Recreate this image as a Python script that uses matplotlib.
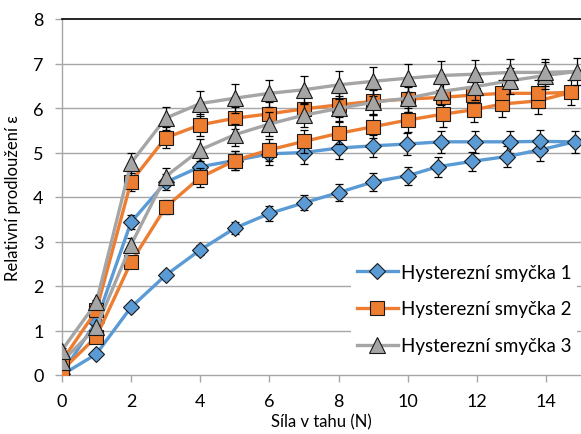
import matplotlib
matplotlib.use("Agg")
import matplotlib.pyplot as plt
from matplotlib.lines import Line2D

plt.rcParams['font.family'] = ['Lato', 'DejaVu Sans']

# ---- data ----
s1_load_F = [0, 1, 2, 3, 4, 5, 6, 7, 8, 9, 10, 10.86, 11.85, 12.86, 13.82, 14.82]
s1_load_e = [0, 0.47, 1.52, 2.24, 2.81, 3.30, 3.63, 3.87, 4.10, 4.34, 4.48, 4.68, 4.80, 4.91, 5.06, 5.24]
s1_load_err = [0, 0.02, 0.04, 0.07, 0.12, 0.14, 0.16, 0.17, 0.19, 0.2, 0.2, 0.22, 0.22, 0.24, 0.24, 0.25]
s1_unl_F = [13.82, 12.96, 11.95, 10.96, 9.97, 9, 8, 7, 6, 5, 4, 3, 2, 1, 0]
s1_unl_e = [5.25, 5.24, 5.24, 5.24, 5.19, 5.15, 5.10, 5.00, 4.97, 4.82, 4.68, 4.33, 3.43, 1.20, 0.03]
s1_unl_err = [0.25, 0.25, 0.25, 0.25, 0.25, 0.25, 0.25, 0.25, 0.25, 0.22, 0.2, 0.18, 0.16, 0.03, 0]

s2_load_F = [0, 1, 2, 3, 4, 5, 6, 7, 8, 9, 10, 11.0, 11.9, 12.73, 13.76, 14.71]
s2_load_e = [0.10, 0.86, 2.53, 3.77, 4.44, 4.82, 5.06, 5.25, 5.43, 5.58, 5.73, 5.86, 5.96, 6.09, 6.16, 6.35]
s2_load_err = [0, 0.03, 0.1, 0.16, 0.22, 0.22, 0.24, 0.25, 0.25, 0.26, 0.28, 0.28, 0.28, 0.3, 0.3, 0.28]
s2_unl_F = [13.76, 12.73, 11.87, 11.0, 10, 9, 8, 7, 6, 5, 4, 3, 2, 1, 0]
s2_unl_e = [6.33, 6.33, 6.29, 6.24, 6.20, 6.15, 6.07, 5.98, 5.87, 5.77, 5.62, 5.33, 4.34, 1.45, 0.31]
s2_unl_err = [0.3, 0.3, 0.3, 0.3, 0.28, 0.28, 0.27, 0.27, 0.26, 0.25, 0.25, 0.24, 0.2, 0.05, 0.02]

s3_load_F = [0, 1, 2, 3, 4, 5, 6, 7, 8, 9, 10, 10.95, 11.94, 12.94, 13.95, 14.88]
s3_load_e = [0.30, 1.07, 2.92, 4.46, 5.06, 5.40, 5.64, 5.84, 5.99, 6.13, 6.22, 6.37, 6.48, 6.61, 6.73, 6.82]
s3_load_err = [0.02, 0.05, 0.15, 0.2, 0.24, 0.25, 0.26, 0.27, 0.28, 0.28, 0.3, 0.3, 0.3, 0.3, 0.3, 0.3]
s3_unl_F = [13.95, 12.94, 11.94, 10.95, 10, 9, 8, 7, 6, 5, 4, 3, 2, 1, 0]
s3_unl_e = [6.80, 6.80, 6.76, 6.73, 6.67, 6.60, 6.52, 6.41, 6.33, 6.22, 6.10, 5.77, 4.76, 1.63, 0.55]
s3_unl_err = [0.3, 0.3, 0.32, 0.32, 0.32, 0.32, 0.32, 0.32, 0.3, 0.33, 0.28, 0.26, 0.22, 0.05, 0.05]

labels = ["Hysterezní smyčka 1", "Hysterezní smyčka 2", "Hysterezní smyčka 3"]
x_ticks = [0, 2, 4, 6, 8, 10, 12, 14]
y_ticks = [0, 1, 2, 3, 4, 5, 6, 7, 8]

series = [
    (s1_load_F + s1_unl_F, s1_load_e + s1_unl_e, s1_load_err + s1_unl_err, '#5B9BD5', 'D', 8.5),
    (s2_load_F + s2_unl_F, s2_load_e + s2_unl_e, s2_load_err + s2_unl_err, '#ED7D31', 's', 10),
    (s3_load_F + s3_unl_F, s3_load_e + s3_unl_e, s3_load_err + s3_unl_err, '#A5A5A5', '^', 11),
]

fig = plt.figure(figsize=(5.81, 4.35), dpi=100)
ax = fig.add_axes([61.7 / 581, 1 - 376 / 435, (581 - 61.7) / 581, (376 - 20) / 435])

grid_c = '#a6a6a6'
for y in y_ticks[1:-1]:
    ax.axhline(y, color=grid_c, lw=1, zorder=0)

z = 2
for (F, e, err, c, m, ms) in series:
    ax.errorbar(F, e, yerr=err, fmt='none', ecolor='black', elinewidth=0.9,
                capsize=3, capthick=0.9, zorder=z)
    ax.plot(F, e, color=c, lw=2.4, marker=m, markersize=ms, markerfacecolor=c,
            markeredgecolor='#1a1a1a', markeredgewidth=0.8, zorder=z + 0.5)
    z += 1

ax.set_xlim(0, 15)
ax.set_ylim(0, 8)
ax.set_xticks(x_ticks)
ax.set_yticks(y_ticks)
ax.tick_params(axis='both', labelsize=13, colors='#a6a6a6', labelcolor='black', length=5, width=1)
ax.tick_params(axis='x', pad=8)
ax.tick_params(axis='y', pad=8)

for s in ['left', 'bottom']:
    ax.spines[s].set_color('#a6a6a6')
    ax.spines[s].set_linewidth(1)
ax.spines['right'].set_visible(False)
ax.spines['top'].set_color('black')
ax.spines['top'].set_linewidth(1.2)

ax.set_xlabel("Síla v tahu (N)", fontsize=12, labelpad=3)
ax.set_ylabel("Relativní prodloužení ε", fontsize=12, labelpad=9)

handles = [Line2D([], [], color=c, lw=2.4, marker=m, markersize=ms, markerfacecolor=c,
                  markeredgecolor='#1a1a1a', markeredgewidth=0.8)
           for (_, _, _, c, m, ms) in series]
leg = ax.legend(handles, labels, loc='center left',
                bbox_to_anchor=((351 - 61.7) / (581 - 61.7), (376 - 310) / 356),
                frameon=True, fontsize=13.5, handlelength=2.2, labelspacing=1.05,
                borderaxespad=0, handletextpad=0.15, borderpad=0.3)
leg.get_frame().set_edgecolor('none')
leg.get_frame().set_facecolor('white')
leg.get_frame().set_alpha(1)
leg.set_zorder(10)

fig.savefig("out.png", dpi=100)
